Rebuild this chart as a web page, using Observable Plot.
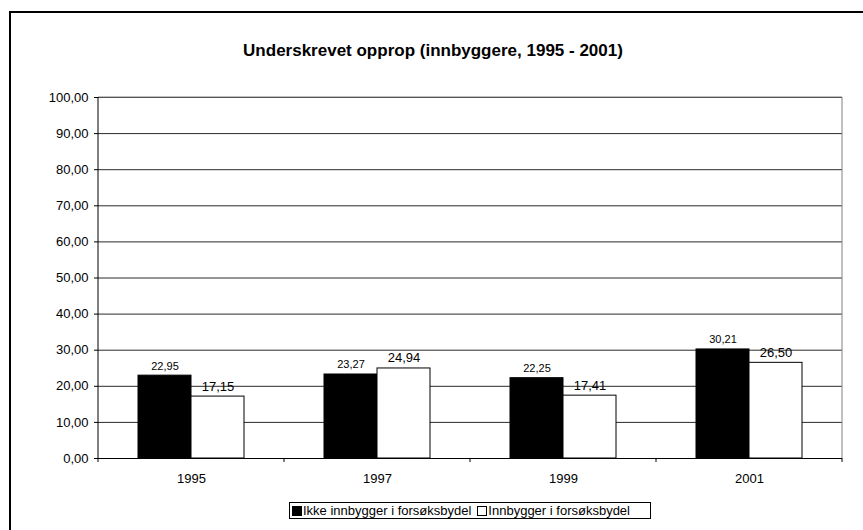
<!DOCTYPE html>
<html>
<head>
<meta charset="utf-8">
<script src="https://cdn.jsdelivr.net/npm/d3@7"></script>
<script src="https://cdn.jsdelivr.net/npm/@observablehq/plot@0.6"></script>
<style>
  html, body { margin: 0; padding: 0; background: #fff; overflow: hidden; }
  #wrap { position: relative; width: 863px; height: 530px; overflow: hidden; font-family: 'Liberation Sans', Arial, sans-serif; }
  #frame { position: absolute; left: 9px; top: 11px; width: 900px; height: 600px; border: 2px solid #000; box-sizing: border-box; }
  #title { position: absolute; left: 0; width: 866px; top: 41px; text-align: center; font-weight: bold; font-size: 17px; color: #000; }
  #legend { position: absolute; left: 289px; top: 502px; width: 362px; height: 17px; border: 1px solid #000; box-sizing: border-box; font-size: 13px; line-height: 15px; white-space: nowrap; display: flex; align-items: center; }
  .sw { display: inline-block; width: 10px; height: 10px; box-sizing: border-box; border: 1px solid #000; margin: 0 1px 0 2px; }
  #chart { position: absolute; left: 0; top: 0; }
</style>
</head>
<body>
<div id="wrap">
  <div id="frame"></div>
  <div id="chart"></div>
  <div id="title">Underskrevet opprop (innbyggere, 1995 - 2001)</div>
  <div id="legend"></div>
</div>
<script>
const years = ["1995", "1997", "1999", "2001"];
const seriesNames = ["Ikke innbygger i forsøksbydel", "Innbygger i forsøksbydel"];
const ikkeInnbygger = [22.95, 23.27, 22.25, 30.21];
const innbygger = [17.15, 24.94, 17.41, 26.50];
const yTicks = [0, 10, 20, 30, 40, 50, 60, 70, 80, 90, 100];
const seriesColors = ["#000000", "#ffffff"];

const data = years.flatMap((year, i) => [
  {year, series: seriesNames[0], value: ikkeInnbygger[i]},
  {year, series: seriesNames[1], value: innbygger[i]}
]);

const fmt = v => v.toFixed(2).replace(".", ",");

const chart = Plot.plot({
  width: 863,
  height: 530,
  marginTop: 97,
  marginRight: 21,
  marginBottom: 72,
  marginLeft: 98,
  style: {fontFamily: "'Liberation Sans', Arial, sans-serif", fontSize: "13px", background: "transparent", color: "#000"},
  fx: {domain: years, padding: 0, label: null},
  x: {domain: seriesNames, paddingInner: 0, paddingOuter: 0.738, axis: null},
  y: {domain: [0, 100], label: null},
  color: {type: "ordinal", domain: seriesNames, range: seriesColors},
  marks: [
    Plot.gridY(yTicks, {stroke: "#2a2a2a", strokeOpacity: 1}),
    Plot.axisY(yTicks, {tickSize: 4, tickPadding: 6, tickFormat: fmt, fontSize: 13, label: null, stroke: "#000"}),
    Plot.axisFx({anchor: "bottom", tickSize: 0, tickPadding: 15, fontSize: 13, label: null}),
    Plot.barY(data, {fx: "year", x: "series", y: "value", fill: "series", stroke: "#000", strokeWidth: 1}),
    Plot.ruleY([0], {stroke: "#000"}),
    Plot.text(data.filter(d => d.series === seriesNames[0]), {fx: "year", x: "series", y: "value", text: d => fmt(d.value), lineAnchor: "bottom", dy: -6, fontSize: 11}),
    Plot.text(data.filter(d => d.series === seriesNames[1]), {fx: "year", x: "series", y: "value", text: d => fmt(d.value), lineAnchor: "bottom", dy: -6, fontSize: 13})
  ]
});
document.getElementById("chart").appendChild(chart);

// plot area border lines and category separator ticks, from the plot's own scales
const fxS = chart.scale("fx");
const yS = chart.scale("y");
const svg = d3.select(chart);
const y0 = yS.apply(0), y100 = yS.apply(100);
const edges = years.map(y => fxS.apply(y)).concat([fxS.apply(years[years.length - 1]) + fxS.bandwidth]);
const left = edges[0], right = edges[edges.length - 1];
const g = svg.append("g");
g.append("line").attr("x1", left).attr("x2", right).attr("y1", y100).attr("y2", y100).attr("stroke", "#808080");
g.append("line").attr("x1", right).attr("x2", right).attr("y1", y100).attr("y2", y0).attr("stroke", "#808080");
g.append("line").attr("x1", left).attr("x2", left).attr("y1", y100).attr("y2", y0 + 0.5).attr("stroke", "#000");
g.selectAll(".sep").data(edges).join("line")
  .attr("x1", d => d).attr("x2", d => d).attr("y1", y0).attr("y2", y0 + 4).attr("stroke", "#000");

// legend
const legend = d3.select("#legend");
seriesNames.forEach((name, i) => {
  const item = legend.append("span").style("display", "inline-flex").style("align-items", "center").style("margin-right", i === 0 ? "4px" : "0");
  item.append("span").attr("class", "sw").style("background", seriesColors[i]);
  item.append("span").text(name);
});
</script>
</body>
</html>
